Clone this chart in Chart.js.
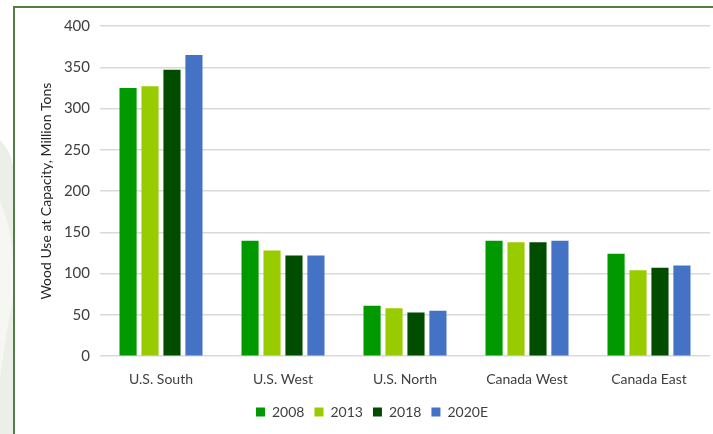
<!DOCTYPE html>
<html>
<head>
<meta charset="utf-8">
<script src="https://cdn.jsdelivr.net/npm/chart.js@4"></script>
<style>
  html, body { margin: 0; padding: 0; background: #fff; }
  #wrap { position: relative; width: 713px; height: 434px; overflow: hidden; }
  #frame { position: absolute; left: 13px; top: 6px; width: 720px; height: 440px;
           border-left: 2px solid #4f7f45; border-top: 2px solid #4f7f45; }
  canvas { position: absolute; left: 0; top: 0; }
</style>
</head>
<body>
<div id="wrap">
  <div id="frame"></div>
  <canvas id="woodChart" width="713" height="434"></canvas>
</div>
<script>
// regions and wood use at capacity (million tons)
const regions = ["U.S. South", "U.S. West", "U.S. North", "Canada West", "Canada East"];
const years = ["2008", "2013", "2018", "2020E"];
const use2008 = [325, 140, 61, 140, 124];
const use2013 = [327, 128, 58, 138, 104];
const use2018 = [347, 122, 53, 138, 107];
const use2020E = [365, 122, 55, 140, 110];
const barColors = ["#009900", "#99cc00", "#004d00", "#4472c4"];

const series = [use2008, use2013, use2018, use2020E];

// faint grey decoration left of the frame
const leafBg = {
  id: "leafBg",
  beforeDraw(chart) {
    const c = chart.ctx;
    c.save();
    c.fillStyle = "#eceee8";
    c.beginPath();
    c.moveTo(0, 140);
    c.quadraticCurveTo(10, 150, 13, 165);
    c.lineTo(13, 434);
    c.lineTo(0, 434);
    c.closePath();
    c.fill();
    c.fillStyle = "#f6f7f3";
    c.beginPath();
    c.moveTo(0, 200);
    c.quadraticCurveTo(12, 230, 13, 260);
    c.lineTo(13, 300);
    c.quadraticCurveTo(6, 330, 0, 380);
    c.closePath();
    c.fill();
    c.restore();
  }
};

new Chart("woodChart", {
  type: "bar",
  data: {
    labels: regions,
    datasets: years.map((y, i) => ({
      label: y,
      data: series[i],
      backgroundColor: barColors[i],
      categoryPercentage: 0.72,
      barPercentage: 0.78
    }))
  },
  options: {
    responsive: false,
    animation: false,
    layout: { padding: { left: 34, right: 3, top: 26, bottom: 5 } },
    plugins: {
      legend: {
        position: "bottom",
        labels: {
          boxWidth: 9, boxHeight: 9, padding: 10,
          color: "#404040",
          font: { family: "Lato", size: 14 }
        }
      },
      tooltip: { enabled: false }
    },
    scales: {
      x: {
        grid: { display: false },
        border: { display: false },
        ticks: { color: "#404040", padding: 7, font: { family: "Lato", size: 14 } }
      },
      y: {
        min: 0, max: 400,
        ticks: { stepSize: 50, color: "#404040", padding: 10, font: { family: "Lato", size: 15 } },
        grid: { color: "#d9d9d9", lineWidth: 1.5, drawTicks: false },
        border: { display: false },
        title: {
          display: true,
          text: "Wood Use at Capacity, Million Tons",
          color: "#262626",
          font: { family: "Lato", size: 14 }
        },
        afterFit(s) { s.width = 66; }
      }
    }
  },
  plugins: [leafBg]
});
</script>
</body>
</html>
